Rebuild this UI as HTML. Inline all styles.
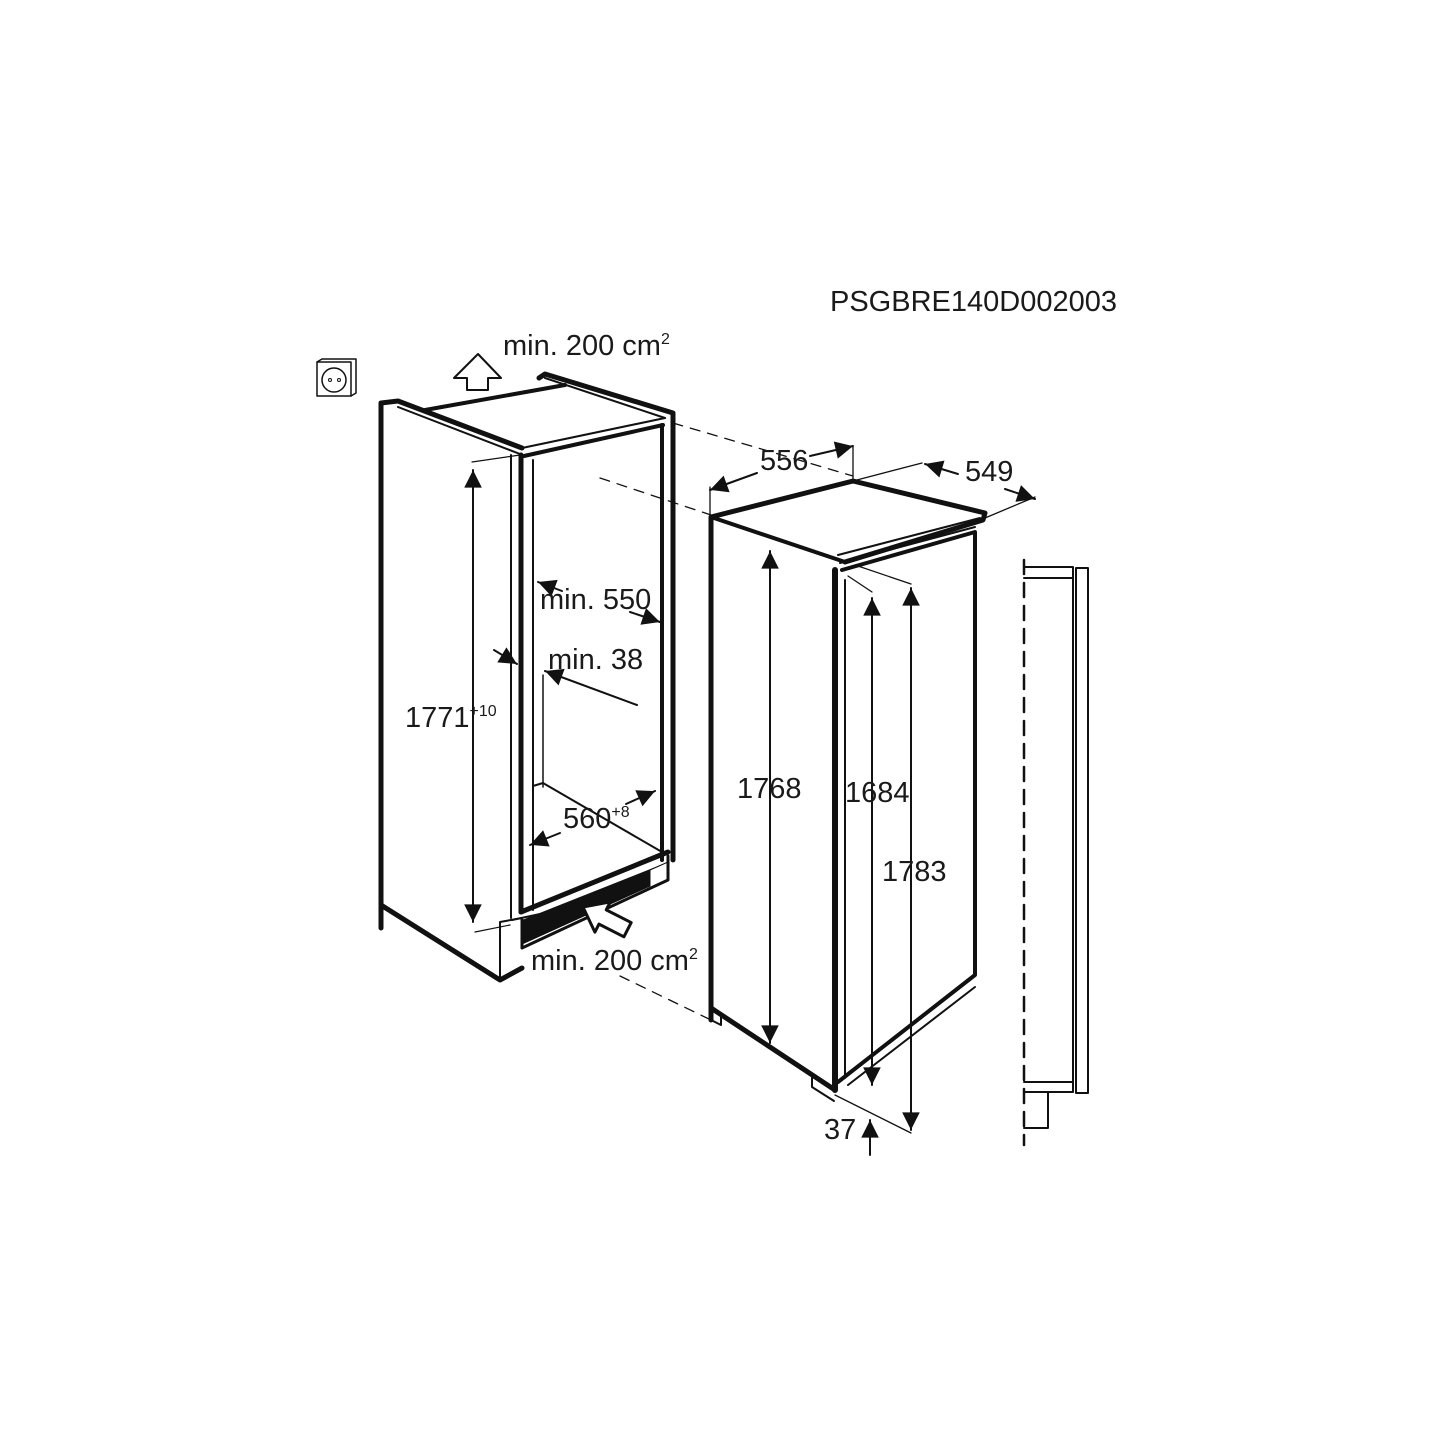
<!DOCTYPE html>
<html><head><style>
html,body{margin:0;padding:0;background:#fff;}
svg{display:block;}
text{font-family:"Liberation Sans",Arial,sans-serif;fill:#1a1a1a;}
</style></head><body>
<svg width="1445" height="1445" viewBox="0 0 1445 1445" xmlns="http://www.w3.org/2000/svg">
<defs>
<marker id="a" viewBox="0 0 10 10" refX="10" refY="5" markerWidth="10" markerHeight="8" markerUnits="userSpaceOnUse" orient="auto-start-reverse" style="overflow:visible">
<path d="M0,0 L10,5 L0,10 z" fill="#111" transform="scale(2.2) translate(-5.5,-2.7)"/>
</marker>
</defs>
<g stroke="#111" fill="none" stroke-linecap="round" stroke-linejoin="round">
<rect x="317" y="362" width="34" height="34" stroke-width="1.5"/>
<path d="M317,362 l5,-3 h34 v34 l-5,3" stroke-width="1.5"/>
<circle cx="334" cy="380" r="12" stroke-width="1.5"/>
<circle cx="330" cy="380" r="1.5" stroke-width="1"/><circle cx="339" cy="380" r="1.5" stroke-width="1"/>
<path d="M467,390 v-12 h-13 l24,-24 l23,24 h-13 v12 z" stroke-width="2"/>

<path d="M381,928 V403 L398,401 L522,448" stroke-width="5"/>
<path d="M398,407 L520,454" stroke-width="2"/>
<path d="M425,410 L565,385" stroke-width="4"/>
<path d="M539,378 L545,374 L673,413 V860" stroke-width="5"/>
<path d="M545,378 L665,418" stroke-width="2"/>
<path d="M522,448 L665,418" stroke-width="2"/>
<path d="M524,456 L663,425" stroke-width="4"/>
<path d="M662,425 V860" stroke-width="4"/>
<path d="M511,455 V918" stroke-width="2"/>
<path d="M521,455 V912" stroke-width="5"/>
<path d="M533,460 V910" stroke-width="2"/>
<path d="M543,675 V787" stroke-width="1.5"/>
<path d="M533,786 L543,783 L662,852" stroke-width="2"/>
<path d="M521,912 L668,852" stroke-width="5"/>
<path d="M512,920 L540,914" stroke-width="2"/>
<path d="M381,905 L500,980 L522,968" stroke-width="5"/>
<path d="M500,980 V922 L522,918" stroke-width="2"/>
<path d="M522,920 V948 L668,880 V856" stroke-width="3"/>
<path d="M522,920 L522,944 L650,886 L650,870 L668,862" fill="#111" stroke-width="1"/>
<g transform="translate(583,907) rotate(27)">
<path d="M0,0 L22,-17 L22,-8 L50,-8 L50,8 L22,8 L22,17 Z" fill="#fff" stroke-width="3"/>
</g>
<path d="M520,455 L472,462" stroke-width="1.2"/>
<path d="M473,470 V922" stroke-width="2" marker-start="url(#a)" marker-end="url(#a)"/>
<path d="M475,932 L510,925" stroke-width="1.2"/>
<path d="M673,423 L853,476" stroke-width="1.3" stroke-dasharray="10,8"/>
<path d="M600,478 L711,515" stroke-width="1.3" stroke-dasharray="10,8"/>
<path d="M620,976 L711,1020" stroke-width="1.3" stroke-dasharray="10,8"/>
<path d="M562,591 L538,582" stroke-width="2" marker-end="url(#a)"/>
<path d="M630,612 L660,622" stroke-width="2" marker-end="url(#a)"/>
<path d="M494,650 L517,664" stroke-width="2" marker-end="url(#a)"/>
<path d="M637,705 L545,671" stroke-width="2" marker-end="url(#a)"/>
<path d="M560,833 L530,845" stroke-width="2" marker-end="url(#a)"/>
<path d="M626,804 L655,791" stroke-width="2" marker-end="url(#a)"/>

<path d="M711,1020 V517 L853,481 L985,513 L983,520 L845,562" stroke-width="5"/>
<path d="M711,517 L845,562" stroke-width="4"/>
<path d="M838,555 L980,518" stroke-width="2"/>
<path d="M842,570 L975,532 V975 L838,1082" stroke-width="4"/>
<path d="M840,563 L975,527" stroke-width="2"/>
<path d="M835,570 V1090" stroke-width="6"/>
<path d="M845,580 V1078" stroke-width="2"/>
<path d="M848,1085 L975,987" stroke-width="2"/>
<path d="M711,1008 L835,1090" stroke-width="5"/>
<path d="M711,1010 v10 l10,5 v-8" stroke-width="2"/>
<path d="M812,1075 v12 l22,14" stroke-width="2"/>
<path d="M710,487 V520" stroke-width="1.3"/>
<path d="M853,447 V483" stroke-width="1.3"/>
<path d="M710,490 L757,473" stroke-width="2" marker-start="url(#a)"/>
<path d="M810,456 L853,446" stroke-width="2" marker-end="url(#a)"/>
<path d="M853,481 L922,463" stroke-width="1.3"/>
<path d="M985,518 L1035,497" stroke-width="1.3"/>
<path d="M958,474 L925,464" stroke-width="2" marker-end="url(#a)"/>
<path d="M1005,489 L1035,499" stroke-width="2" marker-end="url(#a)"/>
<path d="M770,551 V1043" stroke-width="2" marker-start="url(#a)" marker-end="url(#a)"/>
<path d="M848,576 L872,592" stroke-width="1.3"/>
<path d="M872,598 V1085" stroke-width="2" marker-start="url(#a)" marker-end="url(#a)"/>
<path d="M855,565 L911,584" stroke-width="1.3"/>
<path d="M911,588 V1130" stroke-width="2" marker-start="url(#a)" marker-end="url(#a)"/>
<path d="M835,1095 L911,1133" stroke-width="1.3"/>
<path d="M870,1155 V1120" stroke-width="2" marker-end="url(#a)"/>

<path d="M1024,560 V1145" stroke-width="2.5" stroke-dasharray="14,9"/>
<path d="M1024,567 H1073 V1092 H1024" stroke-width="2"/>
<path d="M1024,578 H1073 M1024,1082 H1073" stroke-width="2"/>
<rect x="1076" y="568" width="12" height="525" stroke-width="2"/>
<path d="M1048,1093 V1128 H1024" stroke-width="2"/>
</g>
<g font-size="29">
<text x="503" y="355">min. 200 cm<tspan font-size="16" dy="-11">2</tspan></text>
<text x="830" y="311">PSGBRE140D002003</text>
<text x="540" y="609">min. 550</text>
<text x="548" y="669">min. 38</text>
<text x="405" y="727">1771<tspan font-size="16" dy="-11">+10</tspan></text>
<text x="563" y="828">560<tspan font-size="16" dy="-11">+8</tspan></text>
<text x="531" y="970">min. 200 cm<tspan font-size="16" dy="-11">2</tspan></text>
<text x="760" y="470">556</text>
<text x="965" y="481">549</text>
<text x="737" y="798">1768</text>
<text x="845" y="802">1684</text>
<text x="882" y="881">1783</text>
<text x="824" y="1139">37</text>
</g>
</svg>
</body></html>
